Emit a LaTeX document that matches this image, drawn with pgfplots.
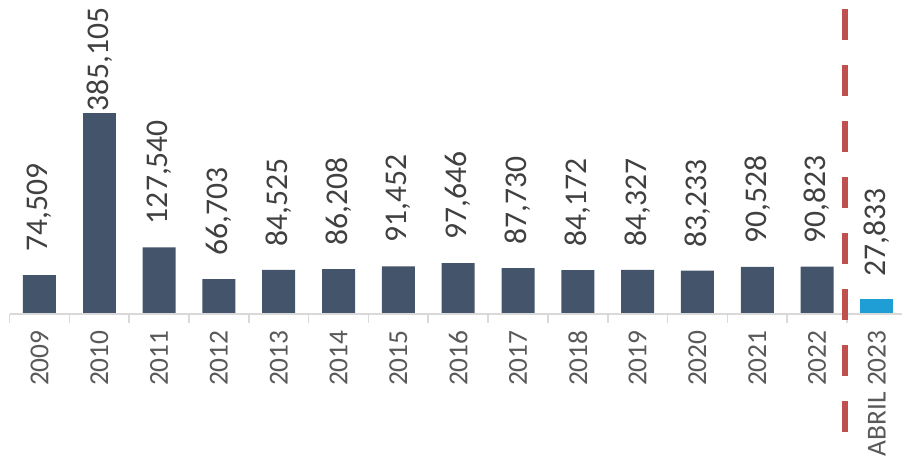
\documentclass[border=0pt]{standalone}
\usepackage{pgfplots}
\pgfplotsset{compat=1.18}
\usepackage{pgfplotstable}
\usepackage{fontspec}
\setmainfont{Carlito}
\definecolor{barc}{HTML}{44546A}
\definecolor{lastc}{HTML}{1F9ED6}
\definecolor{redc}{HTML}{C0504D}
\definecolor{axisgray}{HTML}{D9D9D9}
\definecolor{tickgray}{HTML}{595959}
\definecolor{valgray}{HTML}{404040}
\pgfplotstableread{
x y label
0 74509 74,509
2 127540 127,540
3 66703 66,703
4 84525 84,525
5 86208 86,208
6 91452 91,452
7 97646 97,646
8 87730 87,730
9 84172 84,172
10 84327 84,327
11 83233 83,233
12 90528 90,528
13 90823 90,823
}\maindata
\pgfplotstableread{
x y label
1 385105 385,105
}\topdata
\pgfplotstableread{
x y label
14 27833 27,833
}\lastdata
\begin{document}
\begin{tikzpicture}
\begin{axis}[
  name=ax,
  scale only axis, width=451pt, height=157pt,
  xmin=-0.66, xmax=14.42, ymin=0, ymax=601600,
  axis line style={draw=none},
  ytick=\empty,
  xtick={0,...,14},
  xticklabels={2009,2010,2011,2012,2013,2014,2015,2016,2017,2018,2019,2020,2021,2022,ABRIL 2023},
  major tick length=0pt,
  minor xtick={-0.5,0.5,...,13.5},
  minor tick length=4.5pt,
  tick align=outside,
  minor x tick style={color=axisgray, line width=0.8pt},
  xticklabel shift=8pt,
  x tick label style={rotate=90, anchor=east, font=\fontsize{13.7}{14}\selectfont, text=tickgray, inner sep=0pt},
  clip=false,
  point meta=explicit symbolic,
  every node near coord/.append style={rotate=90, anchor=west, font=\fontsize{15.8}{16}\selectfont, text=valgray, inner ysep=0pt},
]
\addplot[ybar, bar width=16.5pt, bar shift=0pt, fill=barc, draw=none,
  nodes near coords, every node near coord/.append style={inner xsep=11.5pt}]
  table[x=x, y=y, meta=label] {\maindata};
\addplot[ybar, bar width=16.5pt, bar shift=0pt, fill=barc, draw=none,
  nodes near coords, every node near coord/.append style={inner xsep=0.5pt}]
  table[x=x, y=y, meta=label] {\topdata};
\addplot[ybar, bar width=16.5pt, bar shift=0pt, fill=lastc, draw=none,
  nodes near coords, every node near coord/.append style={inner xsep=11.5pt}]
  table[x=x, y=y, meta=label] {\lastdata};
\addplot[sharp plot, axisgray, line width=0.8pt, no marks] coordinates {(-0.5,0) (14.42,0)};
\addplot[sharp plot, redc, line width=3pt, no marks, dash pattern=on 15.5pt off 12.5pt] coordinates {(13.46,584400) (13.46,-226100)};
\end{axis}
\pgfresetboundingbox
\path[use as bounding box] (ax.south west) ++(0,-71pt) rectangle (ax.north east);
\end{tikzpicture}
\end{document}
